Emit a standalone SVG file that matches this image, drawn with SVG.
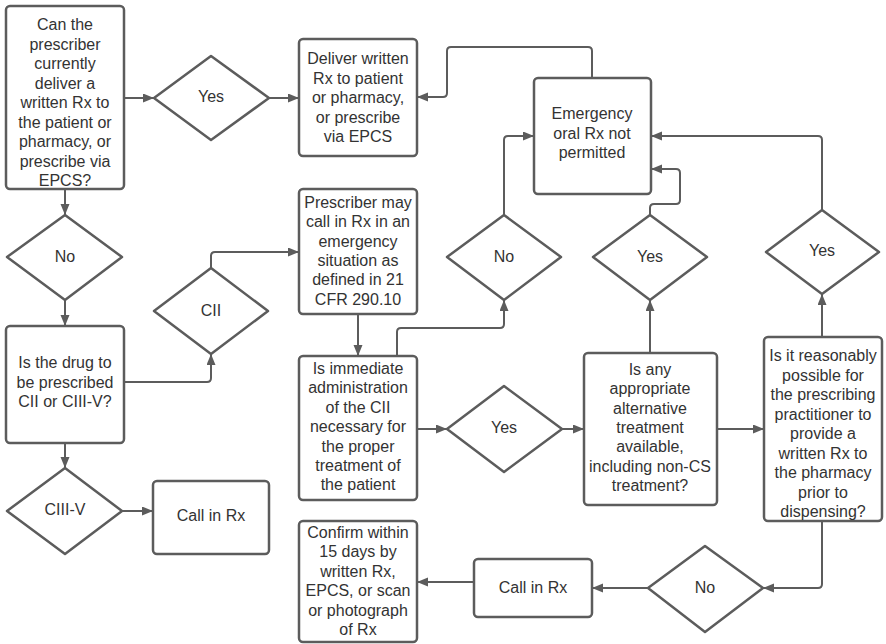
<svg xmlns="http://www.w3.org/2000/svg" width="886" height="644" viewBox="0 0 886 644">
<defs>
<marker id="ah" markerUnits="userSpaceOnUse" markerWidth="12" markerHeight="10" refX="11" refY="4.5" orient="auto">
<path d="M0,0 L11,4.5 L0,9 z" fill="#5c5c5c"/>
</marker>
<style>
.box{fill:#fff;stroke:#5c5c5c;stroke-width:2.5}
.dia{fill:#fff;stroke:#5c5c5c;stroke-width:2.5;stroke-linejoin:round}
.t{font-family:"Liberation Sans",Arial,sans-serif;font-size:16px;fill:#333;text-anchor:middle}
.c{fill:none;stroke:#5c5c5c;stroke-width:2;stroke-linejoin:round;marker-end:url(#ah)}
</style>
</defs>
<rect width="886" height="644" fill="#fff"/>
<g id="connectors">
<path class="c" d="M124,98 H154"/>
<path class="c" d="M269,98 H299"/>
<path class="c" d="M592,78 V51 Q592,47 588,47 H451 Q447,47 447,51 V93 Q447,97 443,97 H417"/>
<path class="c" d="M65,189 V215"/>
<path class="c" d="M65,300 V326"/>
<path class="c" d="M124,382 H207 Q211,382 211,378 V354"/>
<path class="c" d="M211,268 V256 Q211,252 215,252 H299"/>
<path class="c" d="M358,314 V356"/>
<path class="c" d="M397,356 V332 Q397,328 401,328 H500 Q504,328 504,324 V300"/>
<path class="c" d="M504,215 V140 Q504,136 508,136 H534"/>
<path class="c" d="M417,429 H447"/>
<path class="c" d="M562,429 H584"/>
<path class="c" d="M650,353 V300"/>
<path class="c" d="M650,215 V208 Q650,204 654,204 H676 Q680,204 680,200 V173 Q680,169 676,169 H651"/>
<path class="c" d="M717,429 H764"/>
<path class="c" d="M822,337 V294"/>
<path class="c" d="M822,210 V140 Q822,136 818,136 H651"/>
<path class="c" d="M822,521 V584 Q822,588 818,588 H763"/>
<path class="c" d="M648,588 H592"/>
<path class="c" d="M474,582 H417"/>
<path class="c" d="M65,443 V468"/>
<path class="c" d="M122,511 H153"/>
</g>
<g id="n1">
<rect class="box" x="6" y="6" width="118" height="183" rx="4"/>
<text class="t"><tspan x="65" y="30">Can the</tspan><tspan x="65" y="49.5">prescriber</tspan><tspan x="65" y="69">currently</tspan><tspan x="65" y="88.5">deliver a</tspan><tspan x="65" y="108">written Rx to</tspan><tspan x="65" y="127.5">the patient or</tspan><tspan x="65" y="147">pharmacy, or</tspan><tspan x="65" y="166.5">prescribe via</tspan><tspan x="65" y="186">EPCS?</tspan></text>
</g>
<g id="d_yes1">
<polygon class="dia" points="211,56 269,98 211,140 154,98"/>
<text class="t" x="211" y="102">Yes</text>
</g>
<g id="n2">
<rect class="box" x="299" y="39" width="118" height="117" rx="4"/>
<text class="t"><tspan x="358" y="64">Deliver written</tspan><tspan x="358" y="83.5">Rx to patient</tspan><tspan x="358" y="103">or pharmacy,</tspan><tspan x="358" y="122.5">or prescribe</tspan><tspan x="358" y="142">via EPCS</tspan></text>
</g>
<g id="n_emerg">
<rect class="box" x="534" y="78" width="117" height="116" rx="4"/>
<text class="t"><tspan x="592" y="119">Emergency</tspan><tspan x="592" y="138.5">oral Rx not</tspan><tspan x="592" y="158">permitted</tspan></text>
</g>
<g id="d_no1">
<polygon class="dia" points="65,215 122,257 65,300 7,257"/>
<text class="t" x="65" y="262">No</text>
</g>
<g id="n_drug">
<rect class="box" x="6" y="326" width="118" height="117" rx="4"/>
<text class="t"><tspan x="65" y="368">Is the drug to</tspan><tspan x="65" y="387.5">be prescribed</tspan><tspan x="65" y="407">CII or CIII-V?</tspan></text>
</g>
<g id="d_cii">
<polygon class="dia" points="211,268 268,311 211,354 154,311"/>
<text class="t" x="211" y="316">CII</text>
</g>
<g id="d_ciiiv">
<polygon class="dia" points="65,468 122,511 65,554 7,511"/>
<text class="t" x="65" y="515">CIII-V</text>
</g>
<g id="n_call1">
<rect class="box" x="153" y="481" width="116" height="73" rx="4"/>
<text class="t" x="211" y="521">Call in Rx</text>
</g>
<g id="n_prescriber">
<rect class="box" x="299" y="189" width="118" height="125" rx="4"/>
<text class="t"><tspan x="358" y="208">Prescriber may</tspan><tspan x="358" y="227.3">call in Rx in an</tspan><tspan x="358" y="246.6">emergency</tspan><tspan x="358" y="265.9">situation as</tspan><tspan x="358" y="285.2">defined in 21</tspan><tspan x="358" y="304.5">CFR 290.10</tspan></text>
</g>
<g id="d_no2">
<polygon class="dia" points="504,215 561,257 504,300 447,257"/>
<text class="t" x="504" y="262">No</text>
</g>
<g id="n_immediate">
<rect class="box" x="299" y="356" width="118" height="144" rx="4"/>
<text class="t"><tspan x="358" y="374">Is immediate</tspan><tspan x="358" y="393.4">administration</tspan><tspan x="358" y="412.8">of the CII</tspan><tspan x="358" y="432.2">necessary for</tspan><tspan x="358" y="451.6">the proper</tspan><tspan x="358" y="471">treatment of</tspan><tspan x="358" y="490.4">the patient</tspan></text>
</g>
<g id="d_yes2">
<polygon class="dia" points="504,386 562,429 504,472 447,429"/>
<text class="t" x="504" y="433">Yes</text>
</g>
<g id="n_alt">
<rect class="box" x="584" y="353" width="133" height="152" rx="4"/>
<text class="t"><tspan x="650" y="375">Is any</tspan><tspan x="650" y="394.3">appropriate</tspan><tspan x="650" y="413.6">alternative</tspan><tspan x="650" y="432.9">treatment</tspan><tspan x="650" y="452.2">available,</tspan><tspan x="650" y="471.5">including non-CS</tspan><tspan x="650" y="490.8">treatment?</tspan></text>
</g>
<g id="d_yes3">
<polygon class="dia" points="650,215 707,257 650,300 593,257"/>
<text class="t" x="650" y="262">Yes</text>
</g>
<g id="n_possible">
<rect class="box" x="764" y="337" width="118" height="184" rx="4"/>
<text class="t"><tspan x="823" y="361">Is it reasonably</tspan><tspan x="823" y="380.5">possible for</tspan><tspan x="823" y="400">the prescribing</tspan><tspan x="823" y="419.5">practitioner to</tspan><tspan x="823" y="439">provide a</tspan><tspan x="823" y="458.5">written Rx to</tspan><tspan x="823" y="478">the pharmacy</tspan><tspan x="823" y="497.5">prior to</tspan><tspan x="823" y="517">dispensing?</tspan></text>
</g>
<g id="d_yes4">
<polygon class="dia" points="822,210 879,252 822,294 766,252"/>
<text class="t" x="822" y="256">Yes</text>
</g>
<g id="d_no3">
<polygon class="dia" points="705,546 763,588 705,632 648,588"/>
<text class="t" x="705" y="593">No</text>
</g>
<g id="n_call2">
<rect class="box" x="474" y="559" width="118" height="58" rx="4"/>
<text class="t" x="533" y="593">Call in Rx</text>
</g>
<g id="n_confirm">
<rect class="box" x="299" y="521" width="118" height="121" rx="4"/>
<text class="t"><tspan x="358" y="538">Confirm within</tspan><tspan x="358" y="557.4">15 days by</tspan><tspan x="358" y="576.8">written Rx,</tspan><tspan x="358" y="596.2">EPCS, or scan</tspan><tspan x="358" y="615.6">or photograph</tspan><tspan x="358" y="635">of Rx</tspan></text>
</g>
</svg>
